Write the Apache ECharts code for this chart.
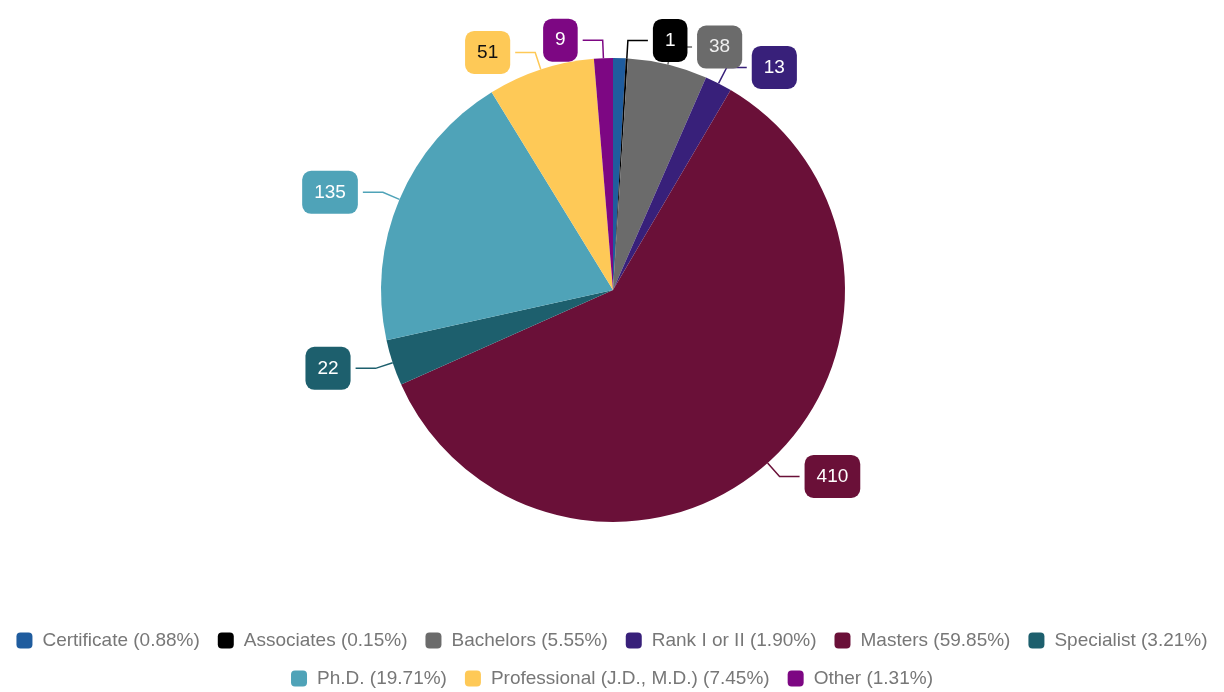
<!DOCTYPE html>
<html>
<head>
<meta charset="utf-8">
<script src="https://cdn.jsdelivr.net/npm/echarts@6/dist/echarts.min.js"></script>
<style>
  html, body { margin: 0; padding: 0; background: #fff; }
  #chart { width: 1224px; height: 692px; }
</style>
</head>
<body>
<div id="chart"></div>
<script>
const categories = ['Certificate', 'Associates', 'Bachelors', 'Rank I or II', 'Masters', 'Specialist', 'Ph.D.', 'Professional (J.D., M.D.)', 'Other'];
const counts = [6, 1, 38, 13, 410, 22, 135, 51, 9];
const colors = ['#1f5c9e', '#000000', '#6b6b6b', '#38207a', '#6a1038', '#1d5f6d', '#4fa3b8', '#fec957', '#7d0783'];
const labelText = ['#ffffff', '#ffffff', '#eeeeee', '#ffffff', '#ffffff', '#ffffff', '#ffffff', '#111111', '#ffffff'];

const total = counts.reduce((a, b) => a + b, 0);

let chart = echarts.init(document.getElementById('chart'));

// legend: two rows, each centred
const legendBase = {
  left: 'center',
  orient: 'horizontal',
  itemWidth: 16,
  itemHeight: 16,
  itemGap: 18,
  icon: 'roundRect',
  textStyle: { color: '#777', fontSize: 19, fontFamily: 'Liberation Sans, Arial', padding: [0, 0, 0, 5] },
  formatter: function (name) {
    let i = categories.indexOf(name);
    return name + ' (' + (counts[i] / total * 100).toFixed(2) + '%)';
  }
};

let option = {
  animation: false,
  color: colors,
  legend: [
    Object.assign({}, legendBase, { top: 626, data: categories.slice(0, 6) }),
    Object.assign({}, legendBase, { top: 664, data: categories.slice(6) })
  ],
  series: [
    {
      type: 'pie',
      center: [613, 290],
      radius: 232,
      startAngle: 90,
      clockwise: true,
      avoidLabelOverlap: false,
      data: categories.map((c, i) => ({
        name: c,
        value: counts[i],
        label: { color: labelText[i], backgroundColor: colors[i] }
      })),
      label: {
        show: true,
        position: 'outside',
        formatter: '{c}',
        fontSize: 19,
        fontFamily: 'Liberation Sans, Arial',
        padding: [12, 12],
        borderRadius: 9
      },
      labelLine: {
        show: true,
        length: 18,
        length2: 20,
        lineStyle: { width: 1.5 }
      }
    }
  ]
};

chart.setOption(option);
</script>
</body>
</html>
